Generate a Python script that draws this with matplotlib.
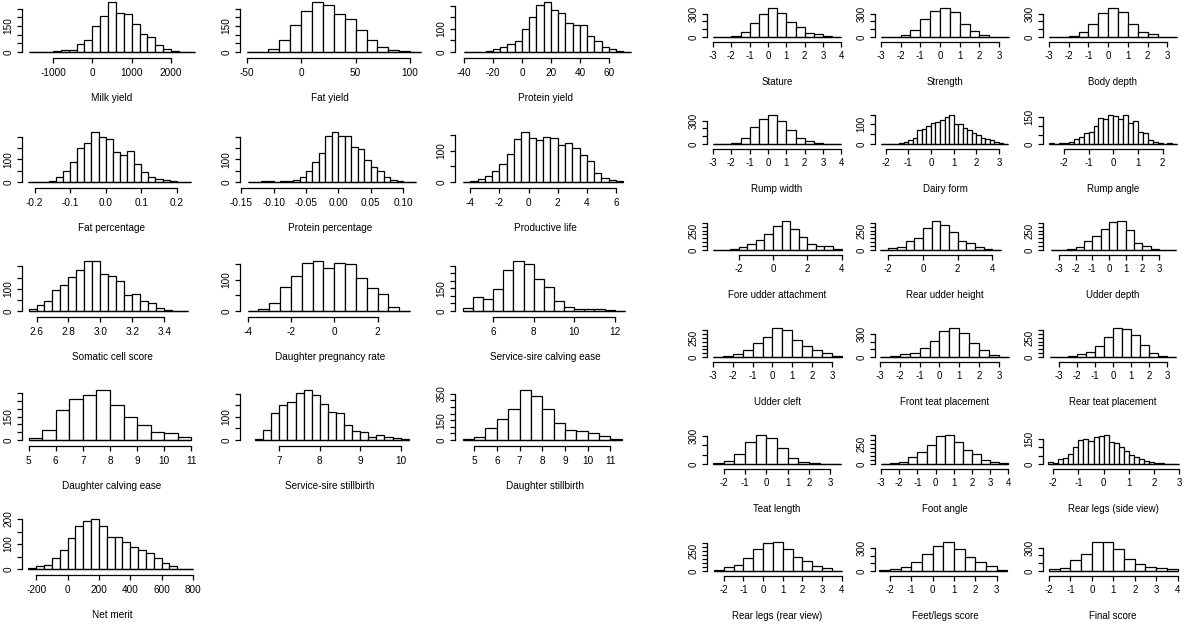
import matplotlib
matplotlib.use("Agg")
import matplotlib.pyplot as plt
import numpy as np

plt.rcParams['font.family'] = ['Liberation Sans', 'DejaVu Sans']

# ---- production traits (left block) : bin start, bin width, counts ----
milk_yield = [0, 0, 0, 4, 10, 10, 44, 67, 152, 208, 288, 225, 217, 162, 106, 87, 38, 17, 6, 0, 0]
fat_yield = [0, 0, 17, 67, 158, 237, 288, 273, 219, 190, 129, 67, 27, 12, 4, 0]
protein_yield = [0, 0, 0, 4, 13, 20, 35, 46, 100, 152, 204, 217, 184, 170, 126, 117, 119, 71, 48, 22, 12, 5, 0]
fat_pct = [0, 0, 0, 6, 24, 50, 88, 152, 171, 221, 198, 189, 133, 121, 138, 80, 42, 24, 15, 9, 5, 0, 0]
protein_pct = [0, 0, 3, 3, 0, 3, 5, 11, 20, 50, 88, 126, 202, 221, 202, 202, 156, 144, 98, 65, 47, 20, 9, 5, 0, 0]
productive_life = [0, 3, 11, 20, 36, 58, 90, 136, 159, 139, 134, 142, 139, 117, 123, 107, 87, 68, 30, 14, 7, 2]
somatic_cell = [8, 26, 47, 95, 117, 153, 182, 224, 224, 168, 159, 135, 71, 76, 47, 38, 12, 6, 0, 0]
preg_rate = [0, 8, 25, 76, 114, 155, 161, 139, 155, 150, 107, 74, 54, 14, 0]
sire_calving = [22, 92, 78, 146, 271, 332, 309, 213, 159, 69, 25, 16, 16, 11, 4, 0]
dau_calving = [11, 64, 194, 262, 287, 321, 223, 145, 96, 53, 43, 17]
sire_stillbirth = [4, 43, 116, 150, 166, 204, 216, 193, 154, 121, 116, 64, 39, 33, 14, 21, 14, 10, 6]
dau_stillbirth = [10, 25, 88, 158, 238, 378, 333, 238, 125, 75, 70, 50, 30, 10]
net_merit = [4, 13, 17, 46, 77, 124, 171, 193, 200, 172, 128, 127, 109, 89, 77, 64, 46, 25, 11, 0, 0]

# ---- type traits (right block) ----
stature = [0, 0, 17, 64, 180, 296, 373, 309, 193, 129, 56, 43, 13, 0]
strength = [0, 0, 30, 86, 231, 330, 373, 317, 167, 73, 30, 0, 0]
body_depth = [0, 0, 13, 69, 171, 304, 373, 317, 167, 60, 39, 0, 0]
rump_width = [0, 0, 13, 77, 219, 321, 373, 296, 176, 81, 39, 13, 4, 0]
dairy_form = [0, 0, 0, 2, 3, 8, 20, 30, 72, 78, 92, 108, 110, 125, 140, 148, 100, 100, 84, 72, 57, 45, 32, 25, 20, 12, 6, 0]
rump_angle = [5, 2, 6, 8, 10, 25, 40, 58, 65, 100, 143, 137, 160, 157, 140, 160, 117, 125, 65, 60, 23, 10, 5, 2, 5, 0]
fore_udder = [0, 0, 9, 39, 77, 133, 210, 304, 373, 266, 167, 77, 47, 47, 13]
rear_udder = [0, 21, 43, 120, 159, 279, 373, 322, 236, 120, 86, 43, 17, 4]
udder_depth = [0, 4, 9, 34, 116, 184, 266, 356, 373, 253, 86, 47, 13, 0, 0]
udder_cleft = [4, 17, 34, 94, 189, 266, 382, 352, 227, 150, 94, 56, 13]
front_teat = [0, 17, 34, 56, 116, 215, 335, 378, 313, 180, 86, 21, 0]
rear_teat = [0, 0, 13, 39, 69, 142, 257, 378, 365, 287, 150, 51, 13, 0]
teat_length = [7, 28, 103, 234, 310, 283, 166, 69, 21, 10, 0, 0]
foot_angle = [0, 12, 24, 80, 152, 232, 344, 356, 264, 168, 120, 48, 20, 8]
legs_side = [10, 8, 27, 37, 62, 100, 140, 150, 137, 160, 168, 172, 132, 125, 100, 75, 55, 40, 28, 15, 10, 5, 3, 0, 0, 0]
legs_rear = [12, 49, 70, 156, 279, 348, 360, 279, 172, 123, 61, 33, 0]
feet_legs = [13, 25, 51, 114, 219, 329, 380, 287, 177, 118, 63, 13]
final_score = [21, 34, 138, 224, 374, 374, 280, 150, 95, 52, 34, 21]

# title, bin start, bin width, counts, xticks, xtick labels, yticks, shown ylabels, xlim
left_panels = [
    ("Milk yield", -1600, 200, milk_yield, [-1000, 0, 1000, 2000], None, range(0, 251, 50), [0, 150], (-1788, 2789)),
    ("Fat yield", -50, 10, fat_yield, [-50, 0, 50, 100], None, range(0, 251, 50), [0, 150], (-56.1, 109)),
    ("Protein yield", -40, 5, protein_yield, [-40, -20, 0, 20, 40, 60], None, range(0, 201, 50), [0, 100], (-46.2, 78)),
    ("Fat percentage", -0.22, 0.02, fat_pct, [-0.2, -0.1, 0.0, 0.1, 0.2], ["-0.2", "-0.1", "0.0", "0.1", "0.2"], range(0, 201, 50), [0, 100], (-0.2355, 0.271)),
    ("Protein percentage", -0.14, 0.01, protein_pct, [-0.15, -0.10, -0.05, 0.0, 0.05, 0.10], ["-0.15", "-0.10", "-0.05", "0.00", "0.05", "0.10"], range(0, 201, 50), [0, 100], (-0.1518, 0.1259)),
    ("Productive life", -4.5, 0.5, productive_life, [-4, -2, 0, 2, 4, 6], None, range(0, 151, 50), [0, 100], (-5.05, 7.31)),
    ("Somatic cell score", 2.55, 0.05, somatic_cell, [2.6, 2.8, 3.0, 3.2, 3.4], ["2.6", "2.8", "3.0", "3.2", "3.4"], range(0, 201, 50), [0, 100], (2.509, 3.637)),
    ("Daughter pregnancy rate", -4, 0.5, preg_rate, [-4, -2, 0, 2], None, range(0, 151, 50), [0, 100], (-4.353, 3.954)),
    ("Service-sire calving ease", 4.5, 0.5, sire_calving, [6, 8, 10, 12], None, range(0, 301, 50), [0, 150], (4.113, 13.0)),
    ("Daughter calving ease", 5, 0.5, dau_calving, [5, 6, 7, 8, 9, 10, 11], None, range(0, 301, 50), [0, 150], (4.76, 11.39)),
    ("Service-sire stillbirth", 6.4, 0.2, sire_stillbirth, [7, 8, 9, 10], None, range(0, 201, 50), [0, 100], (6.026, 10.48)),
    ("Daughter stillbirth", 4.5, 0.5, dau_stillbirth, [5, 6, 7, 8, 9, 10, 11], None, range(0, 351, 50), [0, 150, 350], (4.16, 12.08)),
    ("Net merit", -250, 50, net_merit, [-200, 0, 200, 400, 600, 800], None, range(0, 201, 50), [0, 100, 200], (-291, 858)),
]

right_panels = [
    ("Stature", -3, 0.5, stature, range(-3, 5), None, range(0, 301, 100), [0, 300], (-3.33, 4.31)),
    ("Strength", -3, 0.5, strength, range(-3, 4), None, range(0, 301, 100), [0, 300], (-3.3, 3.81)),
    ("Body depth", -3, 0.5, body_depth, range(-3, 4), None, range(0, 301, 100), [0, 300], (-3.3, 3.79)),
    ("Rump width", -3, 0.5, rump_width, range(-3, 5), None, range(0, 301, 100), [0, 300], (-3.33, 4.31)),
    ("Dairy form", -2.2, 0.2, dairy_form, range(-2, 4), None, range(0, 151, 50), [0, 100], (-2.47, 3.71)),
    ("Rump angle", -2.6, 0.2, rump_angle, range(-2, 3), None, range(0, 151, 50), [0, 150], (-2.85, 2.83)),
    ("Fore udder attachment", -3.5, 0.5, fore_udder, [-2, 0, 2, 4], None, range(0, 351, 50), [0, 250], (-3.84, 4.31)),
    ("Rear udder height", -2.5, 0.5, rear_udder, [-2, 0, 2, 4], None, range(0, 351, 50), [0, 250], (-2.77, 5.31)),
    ("Udder depth", -3.5, 0.5, udder_depth, range(-3, 4), None, range(0, 351, 50), [0, 250], (-3.96, 4.44)),
    ("Udder cleft", -3, 0.5, udder_cleft, range(-3, 4), None, range(0, 351, 50), [0, 250], (-3.3, 3.76)),
    ("Front teat placement", -3, 0.5, front_teat, range(-3, 4), None, range(0, 301, 100), [0, 300], (-3.25, 3.81)),
    ("Rear teat placement", -3.5, 0.5, rear_teat, range(-3, 4), None, range(0, 351, 50), [0, 250], (-3.89, 3.89)),
    ("Teat length", -2.5, 0.5, teat_length, range(-2, 4), None, range(0, 301, 100), [0, 300], (-2.78, 3.78)),
    ("Foot angle", -3, 0.5, foot_angle, range(-3, 5), None, range(0, 351, 50), [0, 250], (-3.33, 4.36)),
    ("Rear legs (side view)", -2.2, 0.2, legs_side, range(-2, 4), None, range(0, 151, 50), [0, 150], (-2.41, 3.16)),
    ("Rear legs (rear view)", -2.5, 0.5, legs_rear, range(-2, 5), None, range(0, 351, 50), [0, 250], (-2.85, 4.27)),
    ("Feet/legs score", -2.5, 0.5, feet_legs, range(-2, 4), None, range(0, 301, 100), [0, 300], (-2.7, 3.86)),
    ("Final score", -2, 0.5, final_score, range(-2, 5), None, range(0, 301, 100), [0, 300], (-2.28, 4.25)),
]

W, H = 1200, 625
fig = plt.figure(figsize=(12, 6.25), dpi=100)


def draw(panel, x0, base, width, bar_px, top_px, off_px, fs, lab_off, ylab_pad, family):
    title, start, bw, counts, xt, xtl, yt, ylab, xlim = panel
    counts = np.array(counts, dtype=float)
    edges = start + bw * np.arange(len(counts) + 1)
    ppu = bar_px / counts.max()
    ax = fig.add_axes([x0 / W, 1 - (base + off_px) / H, width / W, (top_px + off_px) / H])
    ax.bar(edges[:-1], counts, width=bw, align='edge', facecolor='white',
           edgecolor='black', linewidth=0.9, clip_on=False)
    ax.hlines(0, edges[0], edges[-1], color='black', linewidth=0.9, clip_on=False)
    ax.set_xlim(*xlim)
    ax.set_ylim(-off_px / ppu, top_px / ppu)
    for s in ['top', 'right']:
        ax.spines[s].set_visible(False)
    ax.spines['left'].set_bounds(0, list(yt)[-1])
    ax.spines['bottom'].set_bounds(list(xt)[0], list(xt)[-1])
    ax.spines['left'].set_linewidth(0.9)
    ax.spines['bottom'].set_linewidth(0.9)
    ax.set_xticks(list(xt))
    ax.set_xticklabels(xtl if xtl else [str(v) for v in xt], fontsize=fs, family=family)
    ax.set_yticks(list(yt))
    ax.set_yticklabels([str(v) if v in ylab else '' for v in yt], fontsize=fs,
                       rotation=90, va='center', family=family)
    ax.tick_params(length=3.6, width=0.9, direction='out', pad=3.5)
    ax.tick_params(axis='y', pad=ylab_pad)
    ax.patch.set_alpha(0)
    fig.text((x0 + width / 2) / W, 1 - (base + lab_off) / H, title,
             ha='center', va='center', fontsize=fs, family=family)


left_cols = [22, 240, 455]
left_rows = [52, 182, 311, 440, 569]
for i, p in enumerate(left_panels):
    r, c = divmod(i, 3)
    draw(p, left_cols[c], left_rows[r], 180, 50, 54, 6, 7.2, 46, 2.5,
         ['Liberation Sans', 'DejaVu Sans'])

right_cols = [707, 875, 1043]
right_rows = [37, 144, 250, 357, 464, 571]
narrow = ['Liberation Sans Narrow', 'Liberation Sans', 'DejaVu Sans']
for i, p in enumerate(right_panels):
    r, c = divmod(i, 3)
    draw(p, right_cols[c], right_rows[r], 140, 29, 32, 4.5, 7, 45, 2.5, narrow)

fig.savefig("out.png", dpi=100, facecolor='white')
